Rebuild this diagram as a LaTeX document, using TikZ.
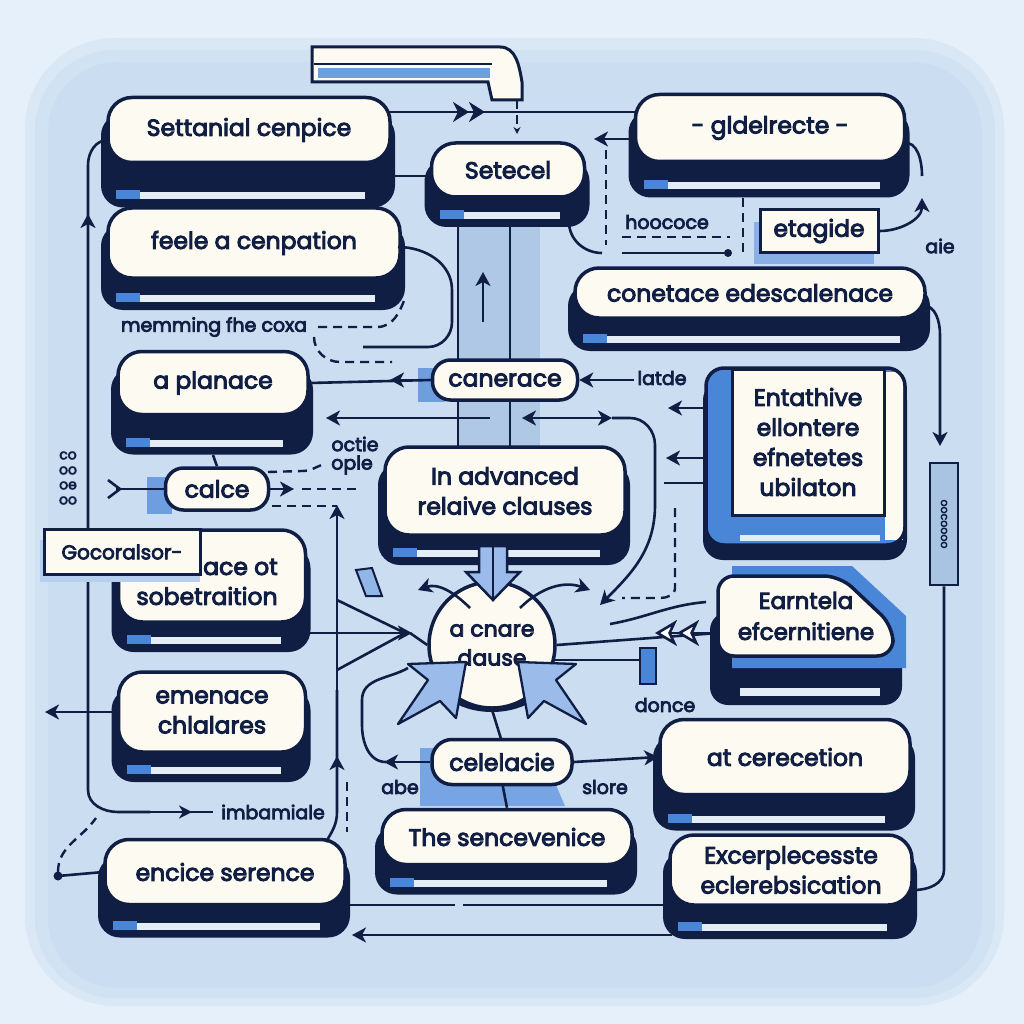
\documentclass[tikz,border=0pt]{standalone}
\usepackage{fontspec}
\setsansfont{Poppins}[FakeBold=4]
\usetikzlibrary{arrows.meta,calc,shapes.geometric}
\definecolor{navy}{HTML}{101E44}
\definecolor{cream}{HTML}{FDFAF1}
\definecolor{bgout}{HTML}{E6F0FA}
\definecolor{bgin}{HTML}{CADDF1}
\definecolor{accent}{HTML}{4A86D8}
\definecolor{strip}{HTML}{E4ECF6}
\definecolor{colfill}{HTML}{AFC8E6}
\definecolor{sideblue}{HTML}{A9C3E3}
\newcommand{\pill}[7]{%
  \fill[navy,rounded corners=22pt] ({#2-#4/2-7},{#3-#5/2+16}) rectangle ({#2+#4/2+5},{#3+#5/2+#6});
  \fill[strip] ({#2-#4/2+30},{#3+#5/2+#6-15}) rectangle ({#2+#4/2-25},{#3+#5/2+#6-8});
  \fill[accent] ({#2-#4/2+8},{#3+#5/2+#6-17}) rectangle ({#2-#4/2+32},{#3+#5/2+#6-8});
  \node[pillbox,minimum width=#4pt,minimum height=#5pt] (#1) at (#2,#3) {#7};
}
\begin{document}
\begin{tikzpicture}[x=1pt,y=-1pt,
  pillbox/.style={draw=navy,line width=3.5pt,fill=cream,rounded corners=24pt,
    font=\sffamily\fontsize{23.5}{30}\selectfont,text=navy,align=center,inner sep=0pt},
  boxnode/.style={draw=navy,line width=3pt,fill=cream,
    font=\sffamily\fontsize{23.5}{30}\selectfont,text=navy,align=center,inner sep=0pt},
  lbl/.style={font=\sffamily\fontsize{19}{22}\selectfont,text=navy,inner sep=0pt},
  conn/.style={draw=navy,line width=2.6pt},
  arr/.style={conn,-{Stealth[length=14pt,width=15pt,inset=4pt]}},
  darr/.style={conn,{Stealth[length=14pt,width=15pt,inset=4pt]}-{Stealth[length=14pt,width=15pt,inset=4pt]}},
  dsh/.style={draw=navy,line width=2.4pt,dash pattern=on 9pt off 6pt},
]
\useasboundingbox (0,0) rectangle (1024,1024);
% background
\fill[bgout] (0,0) rectangle (1024,1024);
\fill[bgin!45!bgout,rounded corners=90pt] (25,38) rectangle (1004,1006);
\fill[bgin!75!bgout,rounded corners=80pt] (35,50) rectangle (995,998);
\fill[bgin,rounded corners=70pt] (48,62) rectangle (982,988);

% central column
\fill[colfill] (458,197) rectangle (540,452);
\draw[conn] (458,197) -- (458,452);
\draw[conn] (510,197) -- (510,452);
\draw[arr] (483,322) -- (483,272);

% faucet shape at top
\draw[navy,line width=3pt,fill=cream] (312,47) -- (500,47) to[out=0,in=100] (522,82) -- (522,100) -- (492,100) -- (488,82) -- (312,82) -- cycle;
\fill[accent!80] (318,68) rectangle (490,78);
\draw[navy,line width=2.5pt] (314,64) -- (492,64);
\draw[dsh,-{Stealth[length=7pt,width=7pt]}] (517,100) -- (517,134);

% left long line
\draw[conn] (88,790) -- (88,165) to[out=90,in=180] (108,140);
\draw[arr] (88,260) -- (88,214);
\draw[conn] (88,790) to[out=270,in=180] (118,812) -- (150,812);
\draw[conn,-{Stealth[length=13pt,width=13pt,inset=4pt]}] (150,812) -- (192,812);
\draw[conn] (185,812) -- (213,812);

% pills
\pill{settanial}{249}{130}{282}{65}{45}{Settanial cenpice}
\pill{setecel}{508}{170}{153}{54}{30}{Setecel}
\pill{gldel}{770}{128}{269}{67}{36}{- gldelrecte -}
\pill{feele}{254}{243}{292}{70}{32}{feele a cenpation}
\pill{conetace}{750}{293}{350}{50}{33}{conetace edescalenace}
\pill{planace}{213}{383}{190}{63}{40}{a planace}
\pill{advanced}{505}{491}{240}{88}{30}{In advanced\\relaive clauses}
\pill{sobet}{212}{576}{187}{92}{30}{}
\pill{emenace}{212}{712}{187}{80}{30}{emenace\\chlalares}
\pill{cerecetion}{785}{757}{250}{75}{36}{at cerecetion}
\pill{sencevenice}{507}{837}{250}{55}{30}{The sencevenice}
\pill{encice}{225}{872}{240}{65}{33}{encice serence}
\pill{excerp}{791}{870}{242}{70}{34}{Excerplecesste\\eclerebsication}

% connectors top
\draw[conn] (388,112) -- (636,112);
\draw[conn,-{Stealth[length=16pt,width=20pt,inset=5pt]Stealth[length=16pt,width=20pt,inset=5pt]}] (388,112) -- (485,112);
\draw[conn] (393,176) -- (430,176);
\draw[arr] (636,139) -- (594,139);
\draw[dsh] (606,150) -- (606,245);
\draw[conn] (569,222) to[out=270,in=180] (602,253);
% hoococe
\node[lbl] (hoococe) at (667,222) {hoococe};
\draw[dsh] (622,237) -- (730,237);
\draw[conn] (622,253) -- (728,253);
\fill[navy] (728,253) circle (4pt);
\draw[dsh] (743,198) -- (743,255);
% etagide
\fill[accent!65] (754,222) rectangle (874,264);
\node[boxnode,minimum width=118pt,minimum height=43pt] (etagide) at (819,231) {etagide};
\draw[arr] (etagide.east) to[out=0,in=270] (922,198);
\draw[conn] (903,143) to[out=10,in=90] (922,176);
\node[lbl] (aie) at (940,246) {aie};
% conetace right
\draw[arr] (922,305) to[out=0,in=90] (940,335) -- (940,446);
% side box
\node[draw=navy,line width=2.5pt,fill=sideblue,minimum width=28pt,minimum height=122pt,inner sep=0pt] (side) at (944,524) {};
\node[rotate=-90,font=\sffamily\fontsize{11}{12}\selectfont,text=navy] at (side) {oocoooo};
\draw[conn] (side.south) -- (944,870) to[out=270,in=0] (914,890);

% feele right curve and dashes
\draw[conn] (398,247) to[out=0,in=90] (452,290) -- (452,322) to[out=270,in=0] (428,347) -- (363,347);
\node[lbl] (memming) at (214,327) {memming fhe coxa};
\draw[dsh] (318,327) -- (377,327) to[out=0,in=250] (405,298);
\draw[dsh] (314,337) to[out=270,in=180] (340,362) -- (392,362);

% canerace
\fill[accent!80] (418,368) rectangle (445,402);
\node[pillbox,minimum width=145pt,minimum height=40pt,rounded corners=18pt] (canerace) at (505,380) {canerace};
\draw[conn] (canerace.west) -- (planace.east);
\draw[arr] (canerace.west) -- (390,380);
\node[lbl] (latde) at (662,378) {latde};
\draw[arr] (634,380) -- (canerace.east);
\draw[arr] (490,418) -- (326,418);
\draw[darr] (522,418) -- (612,418);
\draw[arr] (612,418) -- (630,418) to[out=0,in=90] (655,445) -- (655,505) to[out=270,in=45] (600,605);

% Entathive box
\fill[navy,rounded corners=20pt] (703,380) rectangle (907,560);
\fill[accent,rounded corners=18pt] (706,368) rectangle (905,545);
\fill[cream] (885,372) rectangle (903,540);
\draw[navy,line width=3.5pt,rounded corners=18pt] (706,368) rectangle (905,545);
\fill[strip] (740,535) rectangle (880,541);
\node[boxnode,minimum width=152pt,minimum height=146pt] (entathive) at (808,442) {Entathive\\ellontere\\efnetetes\\ubilaton};
\draw[arr] (706,408) -- (668,408);
\draw[arr] (706,458) -- (666,458);
\draw[conn] (706,483) -- (664,483);
\draw[dsh] (675,508) -- (675,588) to[out=270,in=0] (660,598) -- (622,598);

% Earntela
\fill[navy,rounded corners=18pt] (710,612) rectangle (902,705);
\fill[strip] (740,688) rectangle (880,696);
\fill[accent] (732,566) -- (852,566) -- (906,616) -- (906,668) -- (732,668) -- cycle;
\draw[navy,line width=3.5pt,fill=cream,rounded corners=16pt] (718,576) -- (840,576) -- (893,626) -- (893,656) -- (718,656) -- cycle;
\node[font=\sffamily\fontsize{23}{31}\selectfont,text=navy,align=center] (earntela) at (806,616) {Earntela\\efcernitiene};

% circle
\fill[navy] (492,668) ellipse [x radius=62pt, y radius=44pt];
\node[circle,draw=navy,line width=3.5pt,fill=cream,minimum size=126pt,inner sep=0pt,
  font=\sffamily\fontsize{22}{29}\selectfont,text=navy,align=center] (cnare) at (492,645) {a cnare\\dause};
\draw[navy,line width=2.5pt,fill=accent!55] (479,546) -- (479,572) -- (466,572) -- (493,600) -- (520,572) -- (507,572) -- (507,546) -- cycle;
\draw[conn] (493,540) -- (493,600);
\draw[arr] (470,608) to[out=135,in=20] (418,590);
\draw[arr] (520,608) to[out=45,in=160] (590,590);
% chevrons below circle
\draw[navy,line width=2.3pt,fill=accent!55,line join=round] (466,662) -- (408,664) -- (428,680) -- (398,724) -- (440,701) -- (456,718) -- cycle;
\draw[navy,line width=2.3pt,fill=accent!55,line join=round] (518,662) -- (576,664) -- (556,680) -- (586,724) -- (544,701) -- (528,718) -- cycle;
\draw[conn] (555,660) -- (642,660);
\fill[accent] (640,648) rectangle (656,684);
\draw[navy,line width=2pt] (640,648) rectangle (656,684);
\node[lbl] (donce) at (665,705) {donce};

% earntela to circle
\draw[conn] (718,633) -- (cnare.east);
\draw[conn,fill=white,-{Stealth[length=22pt,width=26pt,inset=6pt,fill=white]Stealth[length=22pt,width=26pt,inset=6pt,fill=white]}] (718,633) -- (655,633);
\draw[conn] (706,602) to[out=185,in=10] (610,624);

% sobet, gocoralsor
\node[font=\sffamily\fontsize{23.5}{30}\selectfont,text=navy,anchor=west,inner sep=0pt] (aceof) at (203,567) {ace ot};
\node[font=\sffamily\fontsize{23.5}{30}\selectfont,text=navy,inner sep=0pt] (sobettxt) at (207,596) {sobetraition};
\fill[accent!40] (40,540) rectangle (200,582);
\node[boxnode,minimum width=156pt,minimum height=45pt,font=\sffamily\fontsize{20}{22}\selectfont] (gocor) at (122,552) {Gocoralsor-};
\draw[arr] (305,633) -- (412,633);
\draw[conn] (410,633) -- (cnare.west);
\draw[conn] (337,600) -- (405,633) -- (337,670);
\draw[arr] (337,690) -- (337,505);
\draw[dsh] (272,506) -- (337,506);
\draw[conn] (337,690) -- (337,812) to[out=270,in=60] (326,842);
\draw[arr] (337,800) -- (337,756);
\draw[dsh] (347,782) -- (347,832);
% decorative blue bits
\draw[navy,line width=2pt,fill=accent!60] (356,570) -- (372,568) -- (382,596) -- (366,596) -- cycle;

% calce
\fill[accent!80] (147,477) rectangle (172,514);
\node[pillbox,minimum width=103pt,minimum height=42pt,rounded corners=18pt] (calce) at (217,489) {calce};
\draw[conn] (calce.north) -- (213,455);
\draw[arr] (calce.east) -- (294,489);
\draw[dsh] (302,489) -- (356,489);
\draw[conn] (calce.west) -- (116,489);
\draw[conn] (108,480) -- (120,489) -- (108,498);
\node[lbl] (octie) at (355,444) {octie};
\node[lbl] (ople) at (352,465) {ople};
\draw[dsh] (268,472) -- (302,471) to[out=0,in=200] (324,464);
\node[font=\sffamily\fontsize{14}{15}\selectfont,text=navy,align=center] (ticks) at (68,478) {co\\oo\\oe\\oo};

% emenace left
\draw[arr] (emenace.west) -- (45,712);
\node[lbl] (imbam) at (273,812) {imbamiale};

% celelacie
\fill[accent!75] (420,748) -- (540,748) -- (565,806) -- (420,806) -- cycle;
\draw[conn] (cnare.south) -- (502,742);
\draw[conn] (502,782) -- (sencevenice.north);
\node[pillbox,minimum width=140pt,minimum height=45pt,rounded corners=20pt] (celelacie) at (502,762) {celelacie};
\draw[arr] (celelacie.west) -- (384,762);
\draw[conn] (386,762) to[out=180,in=270] (362,725) -- (362,700) to[out=90,in=210] (408,668);
\draw[arr] (celelacie.east) -- (cerecetion.west);
\node[lbl] (abe) at (400,787) {abe};
\node[lbl] (slore) at (605,787) {slore};

% encice left
\fill[navy] (58,876) circle (4.5pt);
\draw[conn] (58,876) -- (encice.west);
\draw[dsh] (58,872) to[out=90,in=235] (96,818);

% bottom lines
\draw[conn] (345,905) -- (455,905);
\draw[conn] (463,905) -- (672,905);
\draw[arr] (672,935) -- (352,935);
\end{tikzpicture}
\end{document}
